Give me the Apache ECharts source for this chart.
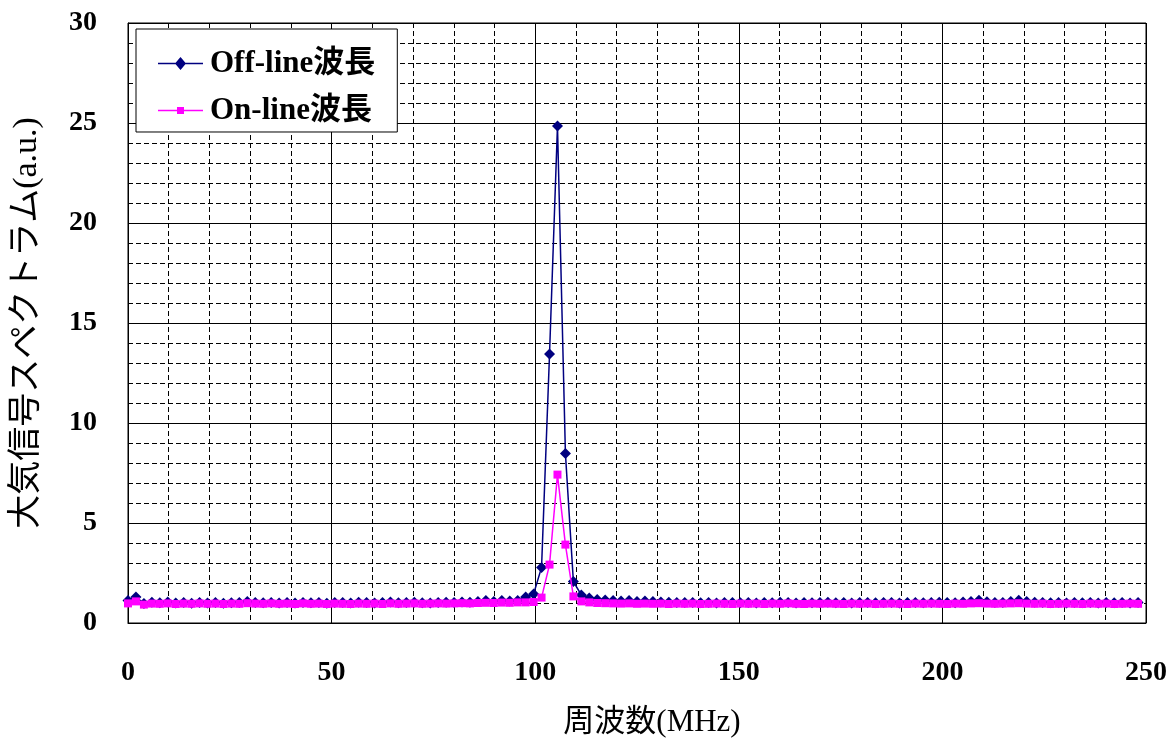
<!DOCTYPE html>
<html>
<head>
<meta charset="utf-8">
<script src="https://cdn.jsdelivr.net/npm/echarts@6/dist/echarts.min.js"></script>
<style>
html,body{margin:0;padding:0;background:#fff;}
#chart{width:1175px;height:747px;}
</style>
</head>
<body>
<div id="chart"></div>
<script>
// Frequency bins (MHz)
const freq = [
  0, 1.95, 3.91, 5.86, 7.81, 9.77, 11.72, 13.67, 15.63, 17.58,
  19.53, 21.48, 23.44, 25.39, 27.34, 29.30, 31.25, 33.20, 35.16, 37.11,
  39.06, 41.02, 42.97, 44.92, 46.88, 48.83, 50.78, 52.73, 54.69, 56.64,
  58.59, 60.55, 62.50, 64.45, 66.41, 68.36, 70.31, 72.27, 74.22, 76.17,
  78.13, 80.08, 82.03, 83.98, 85.94, 87.89, 89.84, 91.80, 93.75, 95.70,
  97.66, 99.61, 101.56, 103.52, 105.47, 107.42, 109.38, 111.33, 113.28, 115.23,
  117.19, 119.14, 121.09, 123.05, 125.00, 126.95, 128.91, 130.86, 132.81, 134.77,
  136.72, 138.67, 140.63, 142.58, 144.53, 146.48, 148.44, 150.39, 152.34, 154.30,
  156.25, 158.20, 160.16, 162.11, 164.06, 166.02, 167.97, 169.92, 171.88, 173.83,
  175.78, 177.73, 179.69, 181.64, 183.59, 185.55, 187.50, 189.45, 191.41, 193.36,
  195.31, 197.27, 199.22, 201.17, 203.13, 205.08, 207.03, 208.98, 210.94, 212.89,
  214.84, 216.80, 218.75, 220.70, 222.66, 224.61, 226.56, 228.52, 230.47, 232.42,
  234.38, 236.33, 238.28, 240.23, 242.19, 244.14, 246.09, 248.05
];
// Off-line wavelength spectrum (a.u.)
const offLine = [
  1.13, 1.30, 0.98, 1.04, 1.01, 1.05, 1.00, 1.03, 0.99, 1.02,
  1.00, 1.03, 0.99, 1.01, 1.02, 1.08, 1.03, 1.01, 1.03, 1.00,
  1.02, 1.00, 1.03, 1.01, 1.02, 0.99, 1.03, 1.02, 1.00, 1.04,
  1.02, 1.00, 1.03, 1.05, 1.01, 1.02, 1.04, 1.01, 1.00, 1.03,
  1.04, 1.02, 1.05, 1.04, 1.07, 1.13, 1.08, 1.13, 1.10, 1.13,
  1.30, 1.45, 2.78, 13.45, 24.85, 8.48, 2.07, 1.40, 1.25, 1.18,
  1.15, 1.12, 1.10, 1.12, 1.08, 1.10, 1.07, 1.05, 1.04, 1.03,
  1.02, 1.03, 1.01, 1.02, 1.00, 1.03, 1.02, 1.01, 1.03, 1.00,
  1.02, 1.01, 1.04, 1.02, 1.00, 1.03, 1.01, 1.02, 1.04, 1.01,
  1.02, 1.00, 1.03, 1.02, 1.01, 1.03, 1.02, 1.00, 1.02, 1.03,
  1.01, 1.02, 1.04, 1.02, 1.01, 1.05, 1.07, 1.14, 1.06, 1.03,
  1.02, 1.07, 1.14, 1.08, 1.04, 1.02, 1.01, 1.03, 1.00, 1.02,
  1.01, 1.03, 1.00, 1.02, 1.01, 1.03, 1.00, 1.02
];
// On-line wavelength spectrum (a.u.)
const onLine = [
  0.98, 1.08, 0.92, 0.97, 0.96, 0.98, 0.95, 0.97, 0.96, 0.98,
  0.96, 0.97, 0.95, 0.97, 0.96, 0.99, 0.97, 0.96, 0.98, 0.96,
  0.97, 0.95, 0.98, 0.96, 0.97, 0.95, 0.97, 0.96, 0.95, 0.97,
  0.96, 0.97, 0.95, 0.98, 0.96, 0.97, 0.98, 0.96, 0.97, 0.98,
  0.97, 0.98, 0.99, 0.98, 1.00, 1.01, 1.00, 1.02, 1.01, 1.03,
  1.03, 1.05, 1.27, 2.92, 7.42, 3.92, 1.33, 1.08, 1.03, 1.00,
  0.99, 0.98, 0.97, 0.98, 0.96, 0.97, 0.96, 0.97, 0.95, 0.97,
  0.96, 0.97, 0.95, 0.96, 0.97, 0.96, 0.95, 0.97, 0.96, 0.97,
  0.95, 0.97, 0.96, 0.98, 0.96, 0.95, 0.97, 0.96, 0.97, 0.96,
  0.95, 0.97, 0.96, 0.97, 0.95, 0.96, 0.97, 0.96, 0.95, 0.97,
  0.96, 0.97, 0.96, 0.95, 0.97, 0.96, 0.98, 0.99, 0.97, 0.96,
  0.97, 0.98, 0.99, 0.97, 0.96, 0.97, 0.95, 0.96, 0.97, 0.96,
  0.95, 0.97, 0.96, 0.97, 0.95, 0.96, 0.97, 0.96
];
const seriesNames = ['Off-line波長', 'On-line波長'];
const xTitle = '周波数(MHz)';
const yTitle = '大気信号スペクトラム(a.u.)';

const serifCjk = "'Liberation Serif','Noto Sans CJK JP',serif";
const chart = echarts.init(document.getElementById('chart'));

const majorLine = {show: true, lineStyle: {color: '#000', width: 1, type: 'solid'}};
const minorLine = {show: true, lineStyle: {color: '#000', width: 1, type: [5, 3]}};

// Legend icons: line with marker (box 45 x 14; tiny corner points fix the box)
const corners = 'M0,0 L0.01,0 L0,0.01 Z M45,14 L44.99,14 L45,13.99 Z ';
const iconDiamond = 'path://' + corners + 'M0,6.2 L45,6.2 L45,7.8 L0,7.8 Z M22.5,0.5 L28,7 L22.5,13.5 L17,7 Z';
const iconSquare = 'path://' + corners + 'M0,6.2 L45,6.2 L45,7.8 L0,7.8 Z M19,3.5 L26,3.5 L26,10.5 L19,10.5 Z';

chart.setOption({
  backgroundColor: '#fff',
  animation: false,
  grid: {left: 128, right: 29, top: 23, bottom: 124, show: true, borderColor: '#000', borderWidth: 1, outerBoundsMode: 'none'},
  legend: {
    orient: 'vertical', left: 136, top: 29,
    padding: [19, 22, 6, 22],
    itemWidth: 45, itemHeight: 14, itemGap: 16,
    backgroundColor: '#fff', borderColor: '#000', borderWidth: 1,
    textStyle: {fontFamily: serifCjk, fontSize: 31, fontWeight: 'bold', color: '#000', padding: [0, 0, 0, 2]},
    data: [
      {name: seriesNames[0], icon: iconDiamond},
      {name: seriesNames[1], icon: iconSquare}
    ]
  },
  xAxis: {
    type: 'value', min: 0, max: 250, interval: 50,
    name: xTitle, nameLocation: 'middle', nameGap: 84,
    nameTextStyle: {fontFamily: serifCjk, fontSize: 31, color: '#000', padding: [0, 0, 0, 30]},
    axisLine: {show: true, lineStyle: {color: '#000', width: 1}},
    axisTick: {show: false},
    axisLabel: {fontFamily: "'Liberation Serif',serif", fontWeight: 'bold', fontSize: 28, color: '#000', margin: 36},
    splitLine: majorLine,
    minorTick: {show: false, splitNumber: 5},
    minorSplitLine: minorLine
  },
  yAxis: {
    type: 'value', min: 0, max: 30, interval: 5,
    name: yTitle, nameLocation: 'middle', nameRotate: 90, nameGap: 84,
    nameTextStyle: {fontFamily: serifCjk, fontSize: 34, color: '#000'},
    axisLine: {show: true, lineStyle: {color: '#000', width: 1}},
    axisTick: {show: false},
    axisLabel: {fontFamily: "'Liberation Serif',serif", fontWeight: 'bold', fontSize: 28, color: '#000', margin: 31},
    splitLine: majorLine,
    minorTick: {show: false, splitNumber: 5},
    minorSplitLine: minorLine
  },
  series: [
    {
      name: seriesNames[0], type: 'line',
      data: freq.map((f, i) => [f, offLine[i]]),
      symbol: 'diamond', symbolSize: 11,
      lineStyle: {color: '#000080', width: 1.5},
      itemStyle: {color: '#000080'},
      z: 2
    },
    {
      name: seriesNames[1], type: 'line',
      data: freq.map((f, i) => [f, onLine[i]]),
      symbol: 'rect', symbolSize: 8,
      lineStyle: {color: '#FF00FF', width: 1.5},
      itemStyle: {color: '#FF00FF'},
      z: 3
    }
  ]
});
</script>
</body>
</html>
